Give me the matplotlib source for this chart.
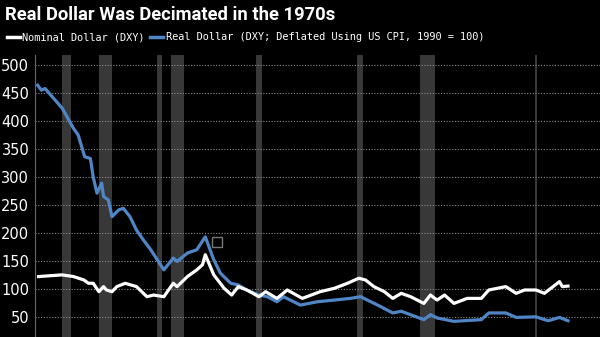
import matplotlib
matplotlib.use("Agg")
import matplotlib.pyplot as plt
from matplotlib.lines import Line2D

# ---- data ----
real_years = [1967.3, 1967.7, 1968.1, 1968.4, 1969.9, 1971.1, 1971.6, 1972.3, 1972.9, 1973.2,
              1973.6, 1974.1, 1974.3, 1974.8, 1975.2, 1975.9, 1976.4, 1977.1, 1977.8, 1978.5,
              1979.3, 1980.7, 1981.7, 1982.1, 1983.2, 1984.2, 1985.1, 1986.0, 1986.7, 1987.8,
              1988.6, 1989.5, 1990.8, 1991.7, 1992.7, 1993.4, 1995.2, 1997.0, 1998.8, 2000.5,
              2001.6, 2002.3, 2003.4, 2005.0, 2005.9, 2008.3, 2009.0, 2009.7, 2011.5, 2014.4,
              2015.2, 2017.0, 2018.1, 2020.2, 2021.5, 2022.7, 2023.6]
real_values = [464, 455, 458, 452, 423, 387, 375, 336, 333, 300,
               271, 289, 265, 259, 229, 241, 244, 229, 205, 188,
               170, 134, 155, 149, 164, 170, 193, 152, 128, 110,
               107, 98, 89, 86, 77, 86, 71, 77, 80, 83,
               86, 80, 71, 57, 60, 45, 54, 48, 42, 45,
               57, 57, 49, 50, 43, 49, 43]

nom_years = [1967.4, 1969.9, 1971.1, 1972.2, 1972.7, 1973.2, 1973.8, 1974.3, 1974.6, 1975.2,
             1975.7, 1976.6, 1977.8, 1978.9, 1979.6, 1980.7, 1981.7, 1982.1, 1983.2, 1984.2,
             1984.8, 1985.1, 1986.0, 1987.1, 1987.9, 1988.6, 1989.5, 1990.8, 1991.5, 1992.7,
             1993.8, 1995.4, 1997.3, 1998.8, 2000.2, 2001.4, 2002.1, 2003.0, 2004.1, 2005.0,
             2005.9, 2006.9, 2008.3, 2009.0, 2009.7, 2010.5, 2011.5, 2012.9, 2014.4, 2015.2,
             2017.0, 2018.1, 2019.0, 2020.2, 2021.1, 2022.7, 2023.0, 2023.6]
nom_values = [122, 125, 122, 116, 110, 110, 95, 104, 98, 95,
              104, 110, 104, 86, 89, 86, 110, 104, 122, 134,
              143, 161, 125, 101, 89, 104, 98, 86, 95, 83,
              98, 83, 95, 101, 110, 119, 116, 104, 95, 83,
              92, 86, 74, 89, 80, 89, 74, 83, 83, 98,
              104, 92, 98, 98, 92, 113, 104, 105]

recessions = [(1969.92, 1970.83), (1973.83, 1975.17), (1980.0, 1980.5), (1981.5, 1982.83),
              (1990.5, 1991.17), (2001.17, 2001.83), (2007.92, 2009.5), (2020.08, 2020.33)]

yticks = [50, 100, 150, 200, 250, 300, 350, 400, 450, 500]

BLUE = "#4f86c6"

# ---- figure ----
fig = plt.figure(figsize=(6.0, 3.37), dpi=100, facecolor="black")
ax = fig.add_axes([0.058, 0.0, 0.942, 0.837], facecolor="black")

for a, b in recessions:
    ax.axvspan(a, b, color="#383838", lw=0, zorder=0)

for v in yticks:
    ax.axhline(v, color="#8a8a8a", lw=0.8, ls=(0, (1, 1.5)), zorder=1)

ax.plot(real_years, real_values, color=BLUE, lw=2.3, zorder=3)
ax.plot(nom_years, nom_values, color="white", lw=2.3, zorder=4)
ax.plot([1986.3], [184], marker="s", ms=7, mfc="none", mec="#777777", mew=1, zorder=5)

ax.set_xlim(1967.0, 2027.0)
ax.set_ylim(14, 518)
ax.set_yticks(yticks)
ax.set_xticks([])
ax.tick_params(axis="y", colors="white", labelsize=10.5, length=0, pad=4)
for s in ["top", "right", "bottom"]:
    ax.spines[s].set_visible(False)
ax.spines["left"].set_color("#666666")
ax.spines["left"].set_linewidth(0.8)

fig.text(0.008, 0.955, "Real Dollar Was Decimated in the 1970s", color="white",
         fontsize=13.2, fontweight="bold", family=["Roboto", "DejaVu Sans"],
         va="center", ha="left")

# legend row
fig.lines.append(Line2D([0.012, 0.034], [0.889, 0.889], color="white", lw=2.5,
                        transform=fig.transFigure))
fig.text(0.037, 0.889, "Nominal Dollar (DXY)", color="white", fontsize=7.4,
         family="DejaVu Sans Mono", va="center", ha="left")
fig.lines.append(Line2D([0.250, 0.272], [0.889, 0.889], color=BLUE, lw=2.5,
                        transform=fig.transFigure))
fig.text(0.277, 0.889, "Real Dollar (DXY; Deflated Using US CPI, 1990 = 100)", color="white",
         fontsize=7.4, family="DejaVu Sans Mono", va="center", ha="left")

fig.savefig("out.png", dpi=100, facecolor="black")
